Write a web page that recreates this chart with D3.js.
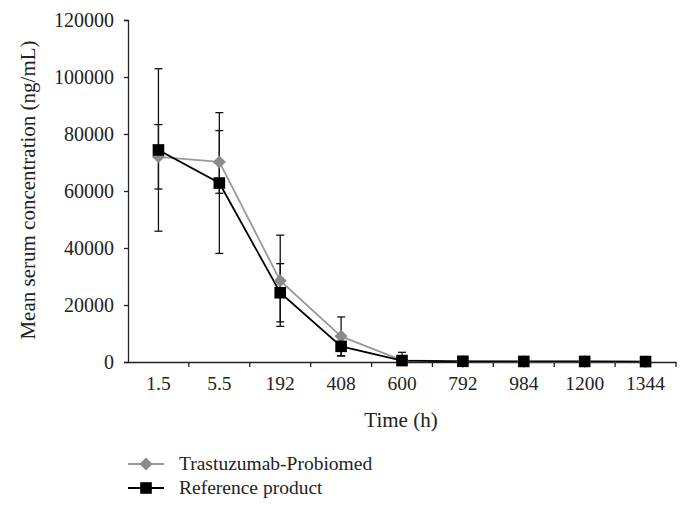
<!DOCTYPE html>
<html>
<head>
<meta charset="utf-8">
<script src="https://cdn.jsdelivr.net/npm/d3@7"></script>
<style>
  html, body { margin: 0; padding: 0; background: #fff; }
  svg { display: block; }
  text { font-family: "Liberation Serif", "Times New Roman", serif; fill: #222; }
</style>
</head>
<body>
<svg id="chart" width="689" height="515"></svg>
<script>
const categories = ["1.5", "5.5", "192", "408", "600", "792", "984", "1200", "1344"];
const trastuzumabMean = [72000, 70200, 28500, 9000, 600, 200, 150, 150, 100];
const trastuzumabErr  = [11300, 11000, 16000, 6800, 2800, 200, 100, 100, 100];
const referenceMean   = [74400, 62800, 24300, 5500, 500, 250, 200, 200, 150];
const referenceErr    = [28500, 24700, 10200, 3400, 1500, 200, 100, 100, 100];
const yTicks = [0, 20000, 40000, 60000, 80000, 100000, 120000];
const seriesNames = ["Trastuzumab-Probiomed", "Reference product"];

const svg = d3.select("#chart");
const mLeft = 128, mRight = 676, mTop = 20, mBottom = 362;

const x = d3.scaleBand().domain(categories).range([mLeft, mRight]).padding(0);
const y = d3.scaleLinear().domain([0, 120000]).range([mBottom, mTop]);

const series = [
  { name: seriesNames[0], mean: trastuzumabMean, err: trastuzumabErr, color: "#8a8a8a", line: "#9a9a9a", size: 85, rot: 45 },
  { name: seriesNames[1], mean: referenceMean, err: referenceErr, color: "#000", line: "#000", size: 135, rot: 0 }
];

// Y axis
const yAxis = svg.append("g")
  .attr("transform", `translate(${mLeft},0)`)
  .call(d3.axisLeft(y).tickValues(yTicks).tickSize(4).tickPadding(10).tickFormat(d3.format("d")));
yAxis.select(".domain").attr("stroke", "#222").attr("stroke-width", 1.3);
yAxis.selectAll(".tick line").attr("stroke", "#222").attr("stroke-width", 1.3);
yAxis.selectAll("text").style("font-size", "20px").attr("fill", "#222").style("font-family", "'Liberation Serif', serif");

// X axis
const xAxis = svg.append("g")
  .attr("transform", `translate(0,${mBottom})`)
  .call(d3.axisBottom(x).tickSize(0).tickPadding(14));
xAxis.select(".domain").attr("stroke", "#222").attr("stroke-width", 1.3);
xAxis.selectAll("text").style("font-size", "19.5px").attr("fill", "#222").style("font-family", "'Liberation Serif', serif");
const boundaries = categories.map(c => x(c) + x.bandwidth());
xAxis.selectAll("line.bound").data(boundaries).enter().append("line")
  .attr("class", "bound")
  .attr("x1", d => d).attr("x2", d => d)
  .attr("y1", 0).attr("y2", 5)
  .attr("stroke", "#222").attr("stroke-width", 1.3);

// Axis titles
svg.append("text")
  .attr("x", (mLeft + mRight) / 2 - 1).attr("y", 427)
  .attr("text-anchor", "middle")
  .style("font-size", "21px")
  .text("Time (h)");
svg.append("text")
  .attr("transform", `translate(35,${(mTop + mBottom) / 2 - 1}) rotate(-90)`)
  .attr("text-anchor", "middle")
  .style("font-size", "21px")
  .text("Mean serum concentration (ng/mL)");

const cx = c => x(c) + x.bandwidth() / 2;
const capW = 4;

// Error bars
series.slice().reverse().forEach(s => {
  const g = svg.append("g");
  categories.forEach((c, i) => {
    const hi = s.mean[i] + s.err[i], lo = Math.max(0, s.mean[i] - s.err[i]);
    g.append("line").attr("x1", cx(c)).attr("x2", cx(c))
      .attr("y1", y(hi)).attr("y2", y(lo))
      .attr("stroke", "#111").attr("stroke-width", 1.3);
    [hi, lo].forEach(v => {
      g.append("line").attr("x1", cx(c) - capW).attr("x2", cx(c) + capW)
        .attr("y1", y(v)).attr("y2", y(v))
        .attr("stroke", "#111").attr("stroke-width", 1.3);
    });
  });
});

// Lines and markers
const line = d3.line().x((d, i) => cx(categories[i])).y(d => y(d));
series.forEach(s => {
  svg.append("path").datum(s.mean)
    .attr("d", line).attr("fill", "none")
    .attr("stroke", s.line).attr("stroke-width", 1.8);
});
series.forEach(s => {
  const sym = d3.symbol().type(d3.symbolSquare).size(s.size);
  svg.append("g").selectAll("path").data(s.mean).enter().append("path")
    .attr("d", sym)
    .attr("transform", (d, i) => `translate(${cx(categories[i])},${y(d)}) rotate(${s.rot})`)
    .attr("fill", s.color);
});

// Legend
const legend = svg.append("g");
series.forEach((s, i) => {
  const ly = 464 + i * 24;
  legend.append("line").attr("x1", 128).attr("x2", 164).attr("y1", ly).attr("y2", ly)
    .attr("stroke", s.line).attr("stroke-width", 1.8);
  legend.append("path")
    .attr("d", d3.symbol().type(d3.symbolSquare).size(s.size))
    .attr("transform", `translate(146,${ly}) rotate(${s.rot})`)
    .attr("fill", s.color);
  legend.append("text").attr("x", 179).attr("y", ly + 6)
    .style("font-size", "19.5px").text(s.name);
});
</script>
</body>
</html>
